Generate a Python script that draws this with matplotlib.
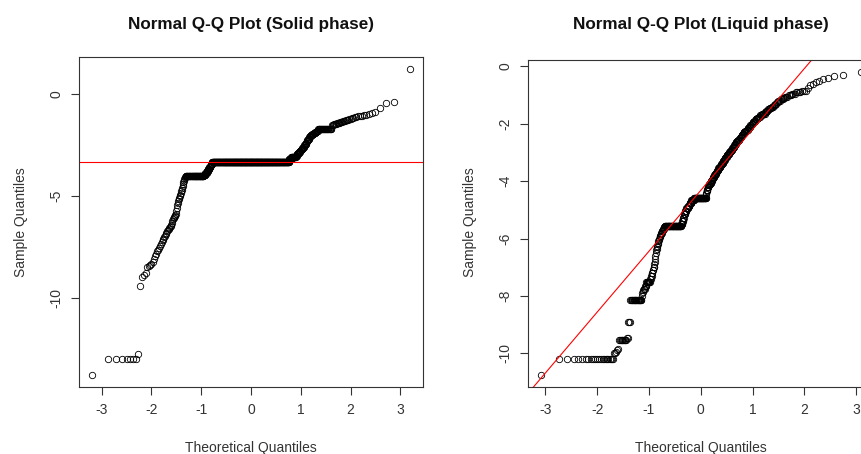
import numpy as np
import matplotlib
matplotlib.use("Agg")
import matplotlib.pyplot as plt
from statistics import NormalDist

plt.rcParams['font.family'] = ['Liberation Sans', 'DejaVu Sans']
plt.rcParams['axes.unicode_minus'] = False

solid_values = [
    -13.75, -13.0, -12.75,
    -9.4, -8.95, -8.85, -8.75, -8.45, -8.4, -8.35, -8.3, -8.2, -8.05,
    -7.95, -7.85, -7.7, -7.65, -7.55, -7.45, -7.35, -7.25, -7.15, -7.1,
    -7.0, -6.95, -6.85, -6.8, -6.72, -6.65, -6.6, -6.55, -6.5, -6.45,
    -6.4, -6.3, -6.2, -6.1, -6.05, -6.0, -5.95, -5.9, -5.85, -5.7,
    -5.55, -5.45, -5.35, -5.25, -5.15, -5.1, -5.0, -4.95, -4.85, -4.75,
    -4.7, -4.6, -4.5, -4.4, -4.3, -4.25, -4.15, -4.1, -4.05,
    -4.0,
    -3.95, -3.85, -3.75, -3.65, -3.55, -3.45, -3.4,
    -3.3,
    -3.15, -3.05,
    -3.0, -2.95, -2.9, -2.85, -2.8,
    -2.75, -2.7, -2.65, -2.6, -2.5, -2.45, -2.4, -2.3,
    -2.25, -2.2, -2.1, -2.05,
    -2.0, -1.95, -1.9, -1.85, -1.8,
    -1.7,
    -1.5, -1.45, -1.4, -1.35, -1.3, -1.25,
    -1.22, -1.2, -1.18, -1.15, -1.12, -1.1, -1.08, -1.06, -1.05, -1.03,
    -1.0, -0.95, -0.9, -0.85, -0.65, -0.42, -0.36, 1.23,
]
solid_counts = ([1, 7, 1] + [1] * 59 + [56]
                + [6, 6, 5, 5, 5, 4, 3] + [408] + [10, 18]
                + [4, 4, 4, 3, 3] + [3, 3, 3, 3, 3, 3, 2, 2]
                + [3, 3, 2, 2] + [4, 4, 4, 4, 3] + [27]
                + [3, 4, 4, 3, 3, 3] + [1] * 18)

liquid_values = [
    -10.75, -10.2, -10.0, -9.95, -9.9, -9.85, -9.55, -9.45, -8.9, -8.15,
    -8.0, -7.9, -7.85, -7.8, -7.75, -7.65, -7.5, -7.4, -7.3, -7.2, -7.1, -7.0,
    -6.9, -6.8, -6.7, -6.6, -6.5, -6.4, -6.35, -6.3, -6.25, -6.2, -6.15, -6.1,
    -6.05, -6.0, -5.95,
    -5.9, -5.85, -5.8, -5.75, -5.7, -5.65, -5.6,
    -5.55,
    -5.5, -5.4, -5.3, -5.15, -5.05, -4.95, -4.85, -4.75, -4.65,
    -4.57,
    -4.45, -4.4, -4.35, -4.3, -4.22,
    -4.15, -4.1, -4.05, -4.0, -3.95, -3.9,
    -3.85, -3.8, -3.75, -3.7, -3.65, -3.6, -3.55, -3.5, -3.45, -3.4,
    -3.35, -3.3, -3.25, -3.2, -3.15, -3.1, -3.05, -3.0,
    -2.95, -2.9, -2.85, -2.8, -2.75, -2.7, -2.65, -2.6, -2.55, -2.5,
    -2.45, -2.4, -2.35, -2.3, -2.25, -2.2, -2.15, -2.1,
    -2.05, -2.0, -1.95, -1.9, -1.85, -1.8, -1.75,
    -1.7, -1.65,
    -1.6, -1.55, -1.5, -1.45, -1.4, -1.35, -1.3, -1.25,
    -1.2, -1.15, -1.1,
    -1.05, -1.0, -0.95,
    -0.9, -0.87,
    -0.75, -0.65, -0.6, -0.55, -0.5, -0.45, -0.4, -0.35, -0.3, -0.2,
]
liquid_counts = ([1, 22, 2, 1, 1, 1, 10, 2, 3, 20]
                 + [1, 1, 1, 1, 3, 3, 9, 2, 2, 2, 2, 2]
                 + [1] * 15 + [2] * 7 + [55]
                 + [4, 3, 3, 4, 5, 6, 6, 7, 10] + [46]
                 + [1, 1, 1, 3, 4] + [3] * 6
                 + [3, 3, 3, 3, 3, 3, 4, 4, 3, 3]
                 + [3, 3, 3, 3, 4, 4, 4, 4]
                 + [3, 3, 3, 3, 3, 3, 3, 3, 4, 3]
                 + [3, 3, 3, 4, 4, 3, 3, 3]
                 + [3, 3, 3, 3, 4, 3, 3]
                 + [4, 5] + [2, 3, 3, 3, 3, 2, 2, 2]
                 + [3, 3, 2] + [3, 3, 3] + [4, 3] + [1] * 10)

# qqline: sample values at the 1st and 3rd quartile of the normal
solid_line = [-3.3, -3.3]
liquid_line = [-5.75, -2.89]

titles = ["Normal Q-Q Plot (Solid phase)", "Normal Q-Q Plot (Liquid phase)"]
xticks = [-3, -2, -1, 0, 1, 2, 3]
solid_yticks = [0, -5, -10]
liquid_yticks = [0, -2, -4, -6, -8, -10]

W, H = 862, 454
txt = '#333333'


def theoretical(n):
    # ppoints(n) for n > 10, through the normal quantile function
    nd = NormalDist()
    return np.array([nd.inv_cdf((i - 0.5) / n) for i in range(1, n + 1)])


def r_range(v):
    lo, hi = np.min(v), np.max(v)
    pad = 0.04 * (hi - lo)
    return lo - pad, hi + pad


def qqplot(rect, values, counts, line, yticks, title):
    ax = fig.add_axes([rect[0] / W, (H - rect[3]) / H,
                       (rect[2] - rect[0]) / W, (rect[3] - rect[1]) / H])
    y = np.sort(np.repeat(values, counts))
    x = theoretical(len(y))
    ax.plot(x, y, ls='none', marker='o', ms=4.6, mfc='none',
            mec='black', mew=0.6)
    q = NormalDist().inv_cdf(0.75)
    ax.axline((-q, line[0]), slope=(line[1] - line[0]) / (2 * q),
              color='red', lw=0.8)
    ax.set_xlim(r_range(x))
    ax.set_ylim(r_range(y))
    ax.set_xticks(xticks)
    ax.set_yticks(yticks)
    ax.tick_params(length=5.5, width=0.8, color='#333333', labelcolor=txt,
                   labelsize=10, pad=6)
    ax.tick_params(axis='y', labelrotation=90)
    for lab in ax.get_yticklabels():
        lab.set_va('center')
    for s in ax.spines.values():
        s.set_color('#333333')
        s.set_linewidth(0.8)
    cx = (rect[0] + rect[2]) / 2
    fig.text(cx / W, 1 - 25 / H, title, ha='center', va='center',
             fontsize=12.3, fontweight='bold', color='#111111')
    fig.text(cx / W, 1 - 448 / H, "Theoretical Quantiles", ha='center',
             va='center', fontsize=10, color=txt)
    fig.text((rect[0] - 58) / W, 1 - 222 / H, "Sample Quantiles",
             ha='center', va='center', rotation=90, fontsize=10, color=txt)
    return ax


fig = plt.figure(figsize=(W / 100, H / 100), dpi=100)
qqplot((79, 57, 423, 387), solid_values, solid_counts, solid_line,
       solid_yticks, titles[0])
qqplot((528, 60, 873.5, 387), liquid_values, liquid_counts, liquid_line,
       liquid_yticks, titles[1])
fig.savefig("out.png", dpi=100)
